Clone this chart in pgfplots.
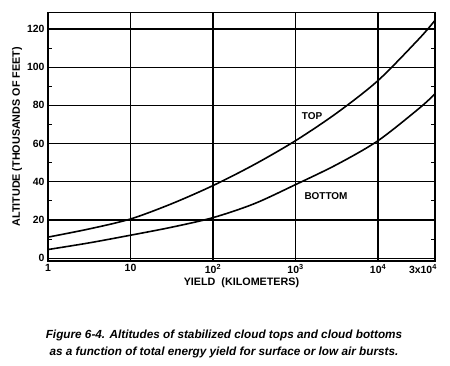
\documentclass[border=0pt]{standalone}
\usepackage{fontspec}
\setmainfont{Liberation Sans}
\usepackage{pgfplots}
\pgfplotsset{compat=1.18}
\begin{document}
\begin{tikzpicture}
\useasboundingbox (-48bp,-105bp) rectangle (402bp,261bp);
\begin{axis}[
  scale only axis,
  width=387bp, height=248.3bp,
  at={(0,0)}, anchor=south west,
  xmode=log,
  xmin=1, xmax=48978,
  ymin=-1.5, ymax=128.5,
  xtick={1,10,100,1000,10000},
  xticklabels={1,10,10\textsuperscript{2},10\textsuperscript{3},10\textsuperscript{4}},
  extra x ticks={35000},
  extra x tick labels={3x10\textsuperscript{4}},
  extra x tick style={grid=none, major tick length=0pt},
  xminorticks=false,
  ytick={0,20,...,120},
  minor ytick={10,30,...,130},
  tick align=inside,
  major tick length=0pt,
  minor tick length=4bp,
  minor tick style={line width=0.9pt, black},
  /pgf/number format/assume math mode=true,
  tick label style={font=\bfseries\fontsize{10.5}{12}\selectfont},
  grid=major,
  x grid style={line width=1.5pt, black},
  y grid style={line width=1.2pt, black},
  axis line style={line width=1.6pt, black},
  xlabel={YIELD\ \ (KILOMETERS)},
  ylabel={ALTITUDE (THOUSANDS OF FEET)},
  label style={font=\bfseries\fontsize{10.8}{12}\selectfont},
  xlabel style={at={(axis description cs:0.5,-0.0886)}, anchor=center},
  ylabel style={at={(axis description cs:-0.080,0.5)}, anchor=center},
  clip=true,
]
\addplot[black, line width=1.6pt, smooth] coordinates {
(1,11) (3.162,15.3) (10,20.5) (31.62,28.5) (100,38) (316.2,49) (1000,61.5)
(3162,76) (10000,93) (31623,115) (48978,124.5)
};
\addplot[black, line width=1.6pt, smooth] coordinates {
(1,4.5) (3.162,8) (10,12) (31.62,16.2) (100,21.2) (316.2,28.5) (1000,38.5)
(3162,49) (10000,61.5) (31623,78.5) (48978,86)
};
\node[font=\bfseries\fontsize{10}{12}\selectfont] at (axis cs:1585,74.4) {TOP};
\node[font=\bfseries\fontsize{10}{12}\selectfont] at (axis cs:2340,32.6) {BOTTOM};
\end{axis}
\node[font=\bfseries\itshape\fontsize{11.8}{17}\selectfont, align=center] at (176bp,-82.5bp)
  {Figure 6-4. Altitudes of stabilized cloud tops and cloud bottoms\\
   as a function of total energy yield for surface or low air bursts.};
\end{tikzpicture}
\end{document}
